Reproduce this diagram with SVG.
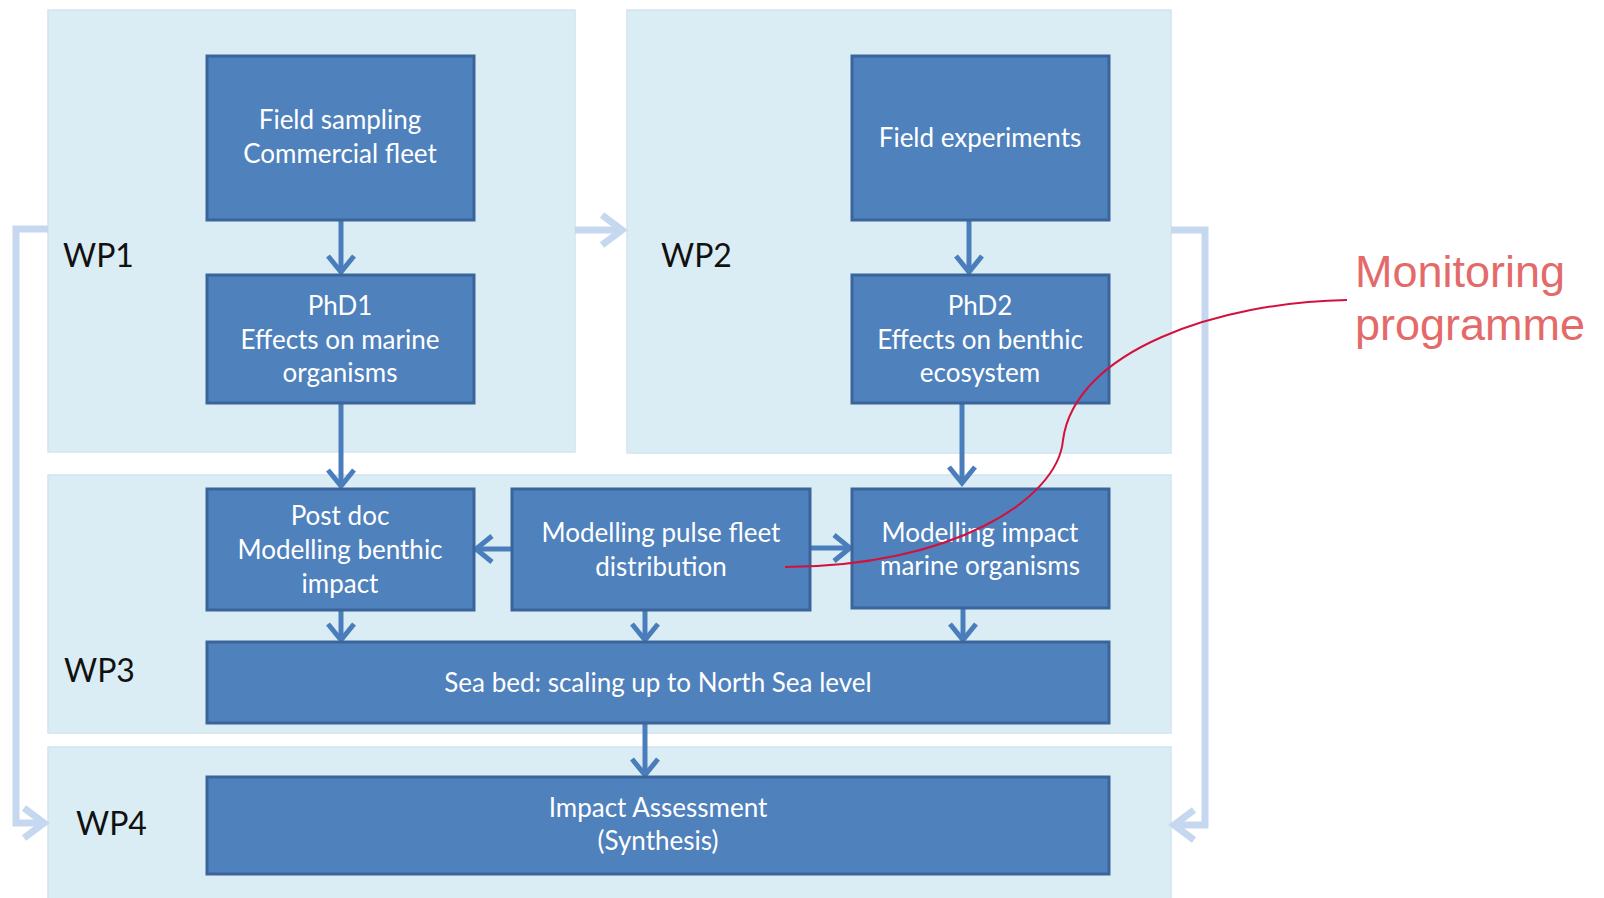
<svg xmlns="http://www.w3.org/2000/svg" width="1604" height="898" viewBox="0 0 1604 898">
<style>
.panel{fill:#dbedf4;stroke:#d3e4ef;stroke-width:1.5}
.box{fill:#4f81bd;stroke:#3b659a;stroke-width:3}
.bt{font-family:Lato,"Liberation Sans",sans-serif;font-size:26px;fill:#ffffff;text-anchor:middle}
.wp{font-family:Lato,"Liberation Sans",sans-serif;font-size:32px;fill:#111111}
.dark{fill:none;stroke:#4a7dbb;stroke-width:5;marker-end:url(#hd)}
.light{fill:none;stroke:#c6d8ef;stroke-width:7;marker-end:url(#hl)}
.mon{font-family:"Liberation Sans",Arial,sans-serif;font-size:45px;fill:#e46a6a}
</style>
<defs>
<marker id="hd" markerUnits="userSpaceOnUse" viewBox="-30 -20 40 40" refX="0" refY="0" markerWidth="40" markerHeight="40" orient="auto" overflow="visible">
<path d="M-16,-13 L0,0 L-16,13" fill="none" stroke="#4a7dbb" stroke-width="5"/>
</marker>
<marker id="hl" markerUnits="userSpaceOnUse" viewBox="-30 -20 40 40" refX="0" refY="0" markerWidth="40" markerHeight="40" orient="auto" overflow="visible">
<path d="M-20,-15 L0,0 L-20,15" fill="none" stroke="#c6d8ef" stroke-width="7"/>
</marker>
</defs>
<rect width="1604" height="898" fill="#ffffff"/>
<g id="panels">
<g id="wp1"><rect class="panel" x="48" y="10" width="527" height="442"/><text class="wp" x="63" y="267">WP1</text></g>
<g id="wp2"><rect class="panel" x="627" y="10" width="544" height="443"/><text class="wp" x="661" y="267">WP2</text></g>
<g id="wp3"><rect class="panel" x="48" y="475" width="1123" height="258"/><text class="wp" x="64" y="682">WP3</text></g>
<g id="wp4"><rect class="panel" x="48" y="747" width="1123" height="160"/><text class="wp" x="76" y="835">WP4</text></g>
</g>
<g id="connectors">
<path class="light" d="M575,230 H622"/>
<path class="light" d="M48,229 H16 V823 H44"/>
<path class="light" d="M1171,230 H1205 V825 H1174"/>
<path class="dark" d="M341,221 V272"/>
<path class="dark" d="M969,221 V272"/>
<path class="dark" d="M341,404 V486"/>
<path class="dark" d="M962,404 V483"/>
<path class="dark" d="M512,549 H476"/>
<path class="dark" d="M810,548 H850"/>
<path class="dark" d="M341,611 V640"/>
<path class="dark" d="M645,611 V640"/>
<path class="dark" d="M963,609 V640"/>
<path class="dark" d="M645,724 V775"/>
</g>
<g id="n1"><rect class="box" x="207" y="56" width="267" height="164"/><text class="bt"><tspan x="340" y="129">Field sampling</tspan><tspan x="340" y="163">Commercial fleet</tspan></text></g>
<g id="n2"><rect class="box" x="207" y="275" width="267" height="128"/><text class="bt"><tspan x="340" y="315">PhD1</tspan><tspan x="340" y="349">Effects on marine</tspan><tspan x="340" y="382">organisms</tspan></text></g>
<g id="n3"><rect class="box" x="852" y="56" width="257" height="164"/><text class="bt"><tspan x="980" y="147">Field experiments</tspan></text></g>
<g id="n4"><rect class="box" x="852" y="275" width="257" height="128"/><text class="bt"><tspan x="980" y="315">PhD2</tspan><tspan x="980" y="349">Effects on benthic</tspan><tspan x="980" y="382">ecosystem</tspan></text></g>
<g id="n5"><rect class="box" x="207" y="489" width="267" height="121"/><text class="bt"><tspan x="340" y="525">Post doc</tspan><tspan x="340" y="559">Modelling benthic</tspan><tspan x="340" y="593">impact</tspan></text></g>
<g id="n6"><rect class="box" x="512" y="489" width="298" height="121"/><text class="bt"><tspan x="661" y="542">Modelling pulse fleet</tspan><tspan x="661" y="576">distribution</tspan></text></g>
<g id="n7"><rect class="box" x="852" y="489" width="257" height="119"/><text class="bt"><tspan x="980" y="542">Modelling impact</tspan><tspan x="980" y="575">marine organisms</tspan></text></g>
<g id="n8"><rect class="box" x="207" y="642" width="902" height="81"/><text class="bt"><tspan x="658" y="692">Sea bed: scaling up to North Sea level</tspan></text></g>
<g id="n9"><rect class="box" x="207" y="777" width="902" height="97"/><text class="bt"><tspan x="658" y="817">Impact Assessment</tspan><tspan x="658" y="850">(Synthesis)</tspan></text></g>
<g id="monitoring">
<path d="M1347,300 C1220,302 1075,350 1063,440 C1058,500 950,567 785,567" fill="none" stroke="#d4103c" stroke-width="2"/>
<text class="mon"><tspan x="1355" y="287">Monitoring</tspan><tspan x="1355" y="340">programme</tspan></text>
</g>
</svg>
